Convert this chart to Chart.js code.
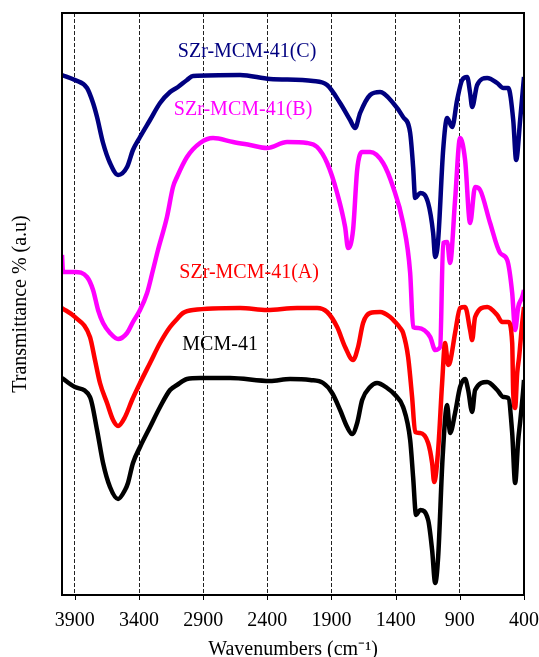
<!DOCTYPE html>
<html lang="en">
<head>
  <meta charset="UTF-8" />
  <title>FTIR spectra of MCM-41 and SZr-MCM-41</title>
  <script src="https://cdn.jsdelivr.net/npm/chart.js"></script>
  <style>
    body {
      margin: 0;
      background: #fff;
    }
    #wrap {
      width: 539px;
      height: 657px;
    }
  </style>
</head>
<body>
  <div id="wrap"><canvas id="ftir"></canvas></div>

  <script>
    // x tick labels (wavenumbers, cm-1)
    const xTicks = [3900, 3400, 2900, 2400, 1900, 1400, 900, 400];

    // MCM-41 (black)
    const mcmWn = [4000, 3899, 3782, 3727, 3680, 3626, 3563, 3509, 3486, 3447, 3392, 3314, 3236, 3158, 3104, 3026, 2924, 2690, 2379, 2223, 2067, 1965, 1895, 1833, 1778, 1739, 1700, 1661, 1599, 1545, 1467, 1404, 1342, 1287, 1264, 1241, 1209, 1147, 1116, 1092, 1069, 1034, 999, 976, 937, 898, 859, 835, 804, 781, 687, 609, 562, 523, 492, 469, 445, 430, 406, 400];
    const mcmT = [217, 208, 198, 165, 132, 108, 96, 105, 112, 132, 148, 168, 188, 205, 210, 216, 217, 217, 214, 216, 215, 212, 202, 185, 168, 161, 172, 195, 208, 212, 207, 200, 188, 155, 118, 80, 85, 75, 45, 12, 38, 138, 190, 162, 182, 208, 216, 205, 183, 205, 213, 205, 198, 197, 162, 112, 155, 173, 205, 215];

    // SZr-MCM-41(A) (red)
    const aWn = [4000, 3899, 3782, 3743, 3704, 3649, 3602, 3563, 3509, 3454, 3392, 3314, 3236, 3158, 3096, 3057, 2979, 2612, 2402, 2168, 2012, 1934, 1856, 1794, 1732, 1693, 1654, 1599, 1521, 1443, 1404, 1365, 1342, 1303, 1272, 1248, 1209, 1147, 1116, 1100, 1069, 1038, 1015, 991, 976, 937, 898, 859, 820, 804, 781, 687, 609, 570, 523, 492, 484, 469, 453, 438, 414, 400];
    const aT = [287, 278, 258, 235, 212, 192, 175, 169, 178, 195, 212, 232, 252, 268, 277, 282, 285, 287, 285, 287, 287, 283, 268, 248, 235, 248, 272, 282, 283, 278, 273, 267, 262, 238, 198, 163, 162, 152, 132, 113, 145, 212, 252, 230, 233, 262, 287, 288, 265, 255, 278, 288, 280, 273, 273, 252, 202, 187, 222, 238, 272, 288];

    // SZr-MCM-41(B) (magenta)
    const bWn = [4000, 3992, 3899, 3805, 3758, 3719, 3680, 3626, 3563, 3493, 3447, 3392, 3337, 3291, 3252, 3182, 3135, 3104, 3026, 2924, 2823, 2667, 2535, 2402, 2246, 2090, 2012, 1934, 1856, 1794, 1771, 1732, 1700, 1661, 1599, 1498, 1420, 1342, 1287, 1264, 1225, 1131, 1092, 1053, 1030, 999, 976, 937, 898, 859, 820, 781, 742, 664, 586, 531, 492, 469, 445, 414, 400];
    const bT = [340, 323, 323, 318, 305, 285, 272, 262, 256, 262, 273, 285, 302, 325, 345, 378, 408, 418, 438, 452, 457, 453, 450, 447, 453, 452, 448, 432, 402, 368, 347, 365, 425, 443, 443, 432, 408, 372, 322, 268, 267, 258, 245, 248, 352, 353, 332, 395, 457, 435, 372, 408, 405, 372, 342, 335, 302, 265, 288, 298, 305];

    // SZr-MCM-41(C) (navy)
    const cWn = [4000, 3899, 3805, 3758, 3727, 3680, 3626, 3563, 3493, 3447, 3392, 3314, 3236, 3158, 3096, 3026, 2979, 2612, 2379, 2043, 1934, 1833, 1755, 1716, 1677, 1599, 1521, 1420, 1342, 1287, 1264, 1248, 1209, 1147, 1108, 1092, 1069, 1030, 999, 960, 921, 882, 843, 820, 804, 765, 687, 609, 562, 523, 484, 461, 430, 400];
    const cT = [520, 515, 507, 492, 478, 452, 432, 420, 428, 445, 458, 475, 492, 503, 508, 515, 519, 520, 516, 514, 510, 492, 475, 467, 482, 500, 503, 492, 478, 462, 428, 397, 402, 392, 362, 338, 355, 445, 477, 468, 495, 515, 518, 502, 488, 510, 517, 512, 507, 507, 475, 435, 475, 518];

    const toXY = (xs, ys) => xs.map((x, i) => ({ x: x, y: ys[i] }));

    const series = [
      { label: 'MCM-41', wn: mcmWn, t: mcmT, color: '#000000' },
      { label: 'SZr-MCM-41(A)', wn: aWn, t: aT, color: '#ff0000' },
      { label: 'SZr-MCM-41(B)', wn: bWn, t: bT, color: '#ff00ff' },
      { label: 'SZr-MCM-41(C)', wn: cWn, t: cT, color: '#000080' }
    ];

    const serif = "'Liberation Serif', 'Times New Roman', serif";

    // text labels placed next to each spectrum (in data units)
    const curveLabels = [
      { text: 'SZr-MCM-41(C)', x: 2558, y: 543, color: '#000080' },
      { text: 'SZr-MCM-41(B)', x: 2589, y: 485, color: '#ff00ff' },
      { text: 'SZr-MCM-41(A)', x: 2542, y: 322, color: '#ff0000' },
      { text: 'MCM-41', x: 2768, y: 250, color: '#000000' }
    ];

    const labelPlugin = {
      id: 'curveLabels',
      afterDatasetsDraw(chart) {
        const ctx = chart.ctx;
        const xs = chart.scales.x, ys = chart.scales.y;
        ctx.save();
        ctx.font = '20px ' + serif;
        ctx.textAlign = 'center';
        ctx.textBaseline = 'middle';
        curveLabels.forEach(l => {
          ctx.fillStyle = l.color;
          ctx.fillText(l.text, xs.getPixelForValue(l.x), ys.getPixelForValue(l.y));
        });
        ctx.restore();
      }
    };

    // solid box round the plot area, plus short outward ticks on the x axis
    const framePlugin = {
      id: 'frame',
      afterDraw(chart) {
        const a = chart.chartArea;
        const ctx = chart.ctx;
        const xs = chart.scales.x;
        ctx.save();
        ctx.setLineDash([]);
        ctx.strokeStyle = '#000';
        ctx.lineWidth = 1;
        ctx.beginPath();
        xs.ticks.forEach(t => {
          const px = Math.round(xs.getPixelForValue(t.value)) + 0.5;
          ctx.moveTo(px, a.bottom);
          ctx.lineTo(px, a.bottom + 5);
        });
        ctx.stroke();
        ctx.lineWidth = 2;
        ctx.strokeRect(a.left, a.top, a.right - a.left, a.bottom - a.top);
        ctx.restore();
      }
    };

    const ctx = document.getElementById('ftir').getContext('2d');
    const chart = new Chart(ctx, {
      type: 'line',
      data: {
        datasets: series.map(s => ({
          label: s.label,
          data: toXY(s.wn, s.t),
          borderColor: s.color,
          backgroundColor: s.color,
          borderWidth: 4.5,
          pointRadius: 0,
          cubicInterpolationMode: 'monotone',
          fill: false
        }))
      },
      options: {
        responsive: true,
        maintainAspectRatio: false,
        animation: false,
        layout: { padding: { top: 13, right: 15, left: 0, bottom: 0 } },
        plugins: {
          legend: { display: false },
          tooltip: { enabled: false }
        },
        scales: {
          x: {
            type: 'linear',
            reverse: true,
            min: 400,
            max: 4000,
            afterBuildTicks: axis => { axis.ticks = xTicks.map(v => ({ value: v })); },
            afterFit: axis => {
              axis.height = 62;
              axis.paddingLeft = 0;
              axis.paddingRight = 0;
            },
            grid: { color: '#222', lineWidth: 1, drawTicks: false },
            border: { display: false, dash: [4, 2] },
            ticks: {
              color: '#000',
              padding: 14,
              maxRotation: 0,
              font: { family: serif, size: 20 },
              callback: v => String(v)
            },
            title: {
              display: true,
              text: 'Wavenumbers (cm\u207B\u00B9)',
              color: '#000',
              padding: { top: 0, bottom: -5 },
              font: { family: serif, size: 20 }
            }
          },
          y: {
            min: 0,
            max: 582,
            afterFit: axis => { axis.width = 62; },
            grid: { display: false },
            border: { display: false },
            ticks: { display: false },
            title: {
              display: true,
              text: 'Transmittance % (a.u)',
              color: '#000',
              padding: { top: 9, bottom: 0 },
              font: { family: serif, size: 20 }
            }
          }
        }
      },
      plugins: [labelPlugin, framePlugin]
    });
  </script>
</body>
</html>
